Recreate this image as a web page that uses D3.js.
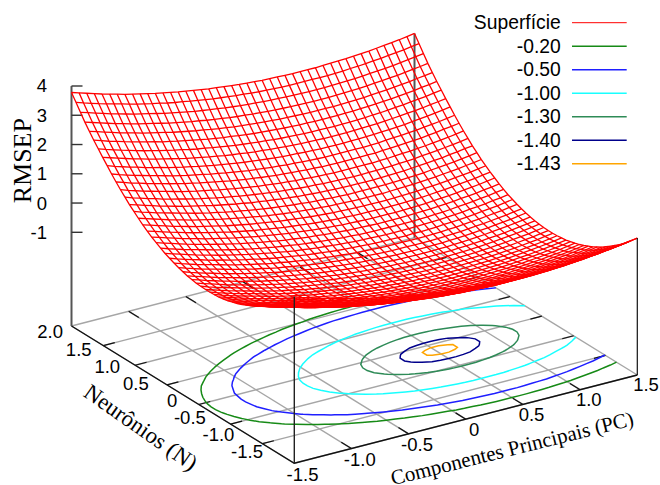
<!DOCTYPE html>
<html>
<head>
<meta charset="utf-8">
<script src="https://cdnjs.cloudflare.com/ajax/libs/d3/7.8.5/d3.min.js"></script>
<style>
body { margin: 0; background: #fff; }
text { font-family: "Liberation Sans", sans-serif; font-size: 18.5px; fill: #000; }
.title { font-family: "Liberation Serif", serif; }
</style>
</head>
<body>
<div id="chart"></div>
<script>
// --- Data ---
const pcTicks = [-1.5, -1.0, -0.5, 0, 0.5, 1.0, 1.5];
const pcTickLabels = ["-1.5", "-1.0", "-0.5", "0", "0.5", "1.0", "1.5"];
const nTicks = [-1.5, -1.0, -0.5, 0, 0.5, 1.0, 1.5, 2.0];
const nTickLabels = ["-1.5", "-1.0", "-0.5", "0", "0.5", "1.0", "1.5", "2.0"];
const zTicks = [-1, 0, 1, 2, 3, 4];
const zTickLabels = ["-1", "0", "1", "2", "3", "4"];
const zFloor = -4.2;

const contourLevels = [-0.2, -0.5, -1.0, -1.3, -1.4, -1.43];
const contourLabels = ["-0.20", "-0.50", "-1.00", "-1.30", "-1.40", "-1.43"];
const contourColors = ["#168a16", "#1f1fff", "#19ffff", "#2e8b57", "#00008b", "#ffa500"];

// RMSEP x 100, one row per N step (from N = -1.5 to N = 2.0), one column per PC step (-1.5 to 1.5)
const rmsepGrid = [
[149,140,132,124,117,110,103,96,89,83,77,72,67,61,57,52,48,44,40,37,34,31,29,26,25,23,21,20,19,19,19,19,19,19,20,21,23,25,26,29,31,34,37,40,44,48],
[133,124,116,108,101,93,86,80,73,67,61,56,50,45,41,36,32,28,24,21,18,15,13,10,8,7,5,4,3,3,2,2,3,3,4,5,7,8,10,13,15,18,21,24,28,32],
[117,109,101,93,85,78,71,64,58,52,46,40,35,30,25,21,16,13,9,6,2,0,-3,-5,-7,-9,-10,-11,-12,-13,-13,-13,-13,-12,-11,-10,-9,-7,-5,-3,0,2,6,9,13,16],
[103,94,86,78,71,64,57,50,43,37,31,26,20,15,11,6,2,-2,-6,-9,-12,-15,-17,-20,-22,-23,-25,-26,-27,-27,-27,-27,-27,-27,-26,-25,-23,-22,-20,-17,-15,-12,-9,-6,-2,2],
[89,81,73,65,57,50,43,36,30,24,18,12,7,2,-3,-7,-12,-16,-19,-23,-26,-28,-31,-33,-35,-37,-38,-39,-40,-41,-41,-41,-41,-40,-39,-38,-37,-35,-33,-31,-28,-26,-23,-19,-16,-12],
[76,68,60,52,44,37,30,23,17,11,5,-1,-6,-11,-16,-20,-24,-28,-32,-35,-38,-41,-44,-46,-48,-50,-51,-52,-53,-54,-54,-54,-54,-53,-52,-51,-50,-48,-46,-44,-41,-38,-35,-32,-28,-24],
[64,56,48,40,33,25,18,12,5,-1,-7,-13,-18,-23,-28,-32,-36,-40,-44,-47,-50,-53,-56,-58,-60,-62,-63,-64,-65,-65,-66,-66,-65,-65,-64,-63,-62,-60,-58,-56,-53,-50,-47,-44,-40,-36],
[53,45,37,29,21,14,7,0,-6,-12,-18,-24,-29,-34,-39,-43,-47,-51,-55,-58,-61,-64,-67,-69,-71,-73,-74,-75,-76,-77,-77,-77,-77,-76,-75,-74,-73,-71,-69,-67,-64,-61,-58,-55,-51,-47],
[43,35,27,19,11,4,-3,-10,-16,-22,-28,-34,-39,-44,-49,-53,-58,-62,-65,-69,-72,-74,-77,-79,-81,-83,-84,-85,-86,-87,-87,-87,-87,-86,-85,-84,-83,-81,-79,-77,-74,-72,-69,-65,-62,-58],
[34,25,17,9,2,-5,-12,-19,-26,-32,-38,-43,-49,-54,-58,-63,-67,-71,-75,-78,-81,-84,-86,-89,-91,-92,-94,-95,-96,-96,-96,-96,-96,-96,-95,-94,-92,-91,-89,-86,-84,-81,-78,-75,-71,-67],
[25,17,9,1,-7,-14,-21,-28,-34,-40,-46,-52,-57,-62,-67,-71,-76,-80,-83,-87,-90,-92,-95,-97,-99,-101,-102,-103,-104,-105,-105,-105,-105,-104,-103,-102,-101,-99,-97,-95,-92,-90,-87,-83,-80,-76],
[18,9,1,-7,-14,-22,-29,-35,-42,-48,-54,-59,-65,-70,-75,-79,-83,-87,-91,-94,-97,-100,-103,-105,-107,-108,-110,-111,-112,-112,-113,-113,-112,-112,-111,-110,-108,-107,-105,-103,-100,-97,-94,-91,-87,-83],
[11,2,-6,-14,-21,-28,-35,-42,-49,-55,-61,-66,-72,-77,-81,-86,-90,-94,-98,-101,-104,-107,-109,-112,-114,-115,-117,-118,-119,-119,-119,-119,-119,-119,-118,-117,-115,-114,-112,-109,-107,-104,-101,-98,-94,-90],
[5,-4,-12,-20,-27,-34,-41,-48,-55,-61,-67,-72,-78,-83,-87,-92,-96,-100,-104,-107,-110,-113,-115,-118,-120,-121,-123,-124,-125,-125,-125,-125,-125,-125,-124,-123,-121,-120,-118,-115,-113,-110,-107,-104,-100,-96],
[0,-9,-17,-25,-32,-40,-47,-53,-60,-66,-72,-77,-83,-88,-92,-97,-101,-105,-109,-112,-115,-118,-120.5,-122.7,-124.7,-126.4,-127.8,-128.9,-129.7,-130.3,-130.6,-130.6,-130.3,-129.7,-128.9,-127.8,-126.4,-124.7,-122.7,-120.5,-118,-115,-112,-109,-105,-101],
[-5,-13,-21,-29,-37,-44,-51,-58,-64,-70,-76,-82,-87,-92,-97,-101,-105,-109,-113,-116,-119,-122,-124.8,-127,-129,-130.6,-132,-133.2,-134,-134.6,-134.8,-134.8,-134.6,-134,-133.2,-132,-130.6,-129,-127,-124.8,-122,-119,-116,-113,-109,-105],
[-8,-16,-25,-32,-40,-47,-54,-61,-67,-74,-79,-85,-90,-95,-100,-105,-109,-113,-116,-120,-123,-126,-128.2,-130.4,-132.4,-134,-135.4,-136.6,-137.4,-138,-138.2,-138.2,-138,-137.4,-136.6,-135.4,-134,-132.4,-130.4,-128.2,-126,-123,-120,-116,-113,-109],
[-11,-19,-27,-35,-43,-50,-57,-64,-70,-76,-82,-88,-93,-98,-103,-107,-111,-115,-119,-122,-125,-128,-130.7,-133,-134.9,-136.6,-138,-139.1,-140,-140.5,-140.8,-140.8,-140.5,-140,-139.1,-138,-136.6,-134.9,-133,-130.7,-128,-125,-122,-119,-115,-111],
[-12,-21,-29,-37,-44,-51,-58,-65,-72,-78,-84,-89,-95,-100,-104,-109,-113,-117,-121,-124,-127,-130,-132.4,-134.7,-136.6,-138.3,-139.7,-140.8,-141.9,-142.4,-142.7,-142.7,-142.4,-141.9,-140.8,-139.7,-138.3,-136.6,-134.7,-132.4,-130,-127,-124,-121,-117,-113],
[-13,-22,-30,-38,-45,-52,-59,-66,-73,-79,-85,-90,-95,-101,-105,-110,-114,-118,-122,-125,-128,-131,-133.3,-135.5,-137.5,-139.2,-140.6,-141.7,-142.7,-143.3,-143.6,-143.6,-143.3,-142.7,-141.7,-140.6,-139.2,-137.5,-135.5,-133.3,-131,-128,-125,-122,-118,-114],
[-13,-22,-30,-38,-45,-52,-59,-66,-73,-79,-85,-90,-95,-101,-105,-110,-114,-118,-122,-125,-128,-131,-133.3,-135.5,-137.5,-139.2,-140.6,-141.7,-142.7,-143.3,-143.6,-143.6,-143.3,-142.7,-141.7,-140.6,-139.2,-137.5,-135.5,-133.3,-131,-128,-125,-122,-118,-114],
[-12,-21,-29,-37,-44,-51,-58,-65,-72,-78,-84,-89,-95,-100,-104,-109,-113,-117,-121,-124,-127,-130,-132.4,-134.7,-136.6,-138.3,-139.7,-140.8,-141.9,-142.4,-142.7,-142.7,-142.4,-141.9,-140.8,-139.7,-138.3,-136.6,-134.7,-132.4,-130,-127,-124,-121,-117,-113],
[-11,-19,-27,-35,-43,-50,-57,-64,-70,-76,-82,-88,-93,-98,-103,-107,-111,-115,-119,-122,-125,-128,-130.7,-133,-134.9,-136.6,-138,-139.1,-140,-140.5,-140.8,-140.8,-140.5,-140,-139.1,-138,-136.6,-134.9,-133,-130.7,-128,-125,-122,-119,-115,-111],
[-8,-16,-25,-32,-40,-47,-54,-61,-67,-74,-79,-85,-90,-95,-100,-105,-109,-113,-116,-120,-123,-126,-128.2,-130.4,-132.4,-134,-135.4,-136.6,-137.4,-138,-138.2,-138.2,-138,-137.4,-136.6,-135.4,-134,-132.4,-130.4,-128.2,-126,-123,-120,-116,-113,-109],
[-5,-13,-21,-29,-37,-44,-51,-58,-64,-70,-76,-82,-87,-92,-97,-101,-105,-109,-113,-116,-119,-122,-124.8,-127,-129,-130.6,-132,-133.2,-134,-134.6,-134.8,-134.8,-134.6,-134,-133.2,-132,-130.6,-129,-127,-124.8,-122,-119,-116,-113,-109,-105],
[0,-9,-17,-25,-32,-40,-47,-53,-60,-66,-72,-77,-83,-88,-92,-97,-101,-105,-109,-112,-115,-118,-120.5,-122.7,-124.7,-126.4,-127.8,-128.9,-129.7,-130.3,-130.6,-130.6,-130.3,-129.7,-128.9,-127.8,-126.4,-124.7,-122.7,-120.5,-118,-115,-112,-109,-105,-101],
[5,-4,-12,-20,-27,-34,-41,-48,-55,-61,-67,-72,-78,-83,-87,-92,-96,-100,-104,-107,-110,-113,-115,-118,-120,-121,-123,-124,-125,-125,-125,-125,-125,-125,-124,-123,-121,-120,-118,-115,-113,-110,-107,-104,-100,-96],
[11,2,-6,-14,-21,-28,-35,-42,-49,-55,-61,-66,-72,-77,-81,-86,-90,-94,-98,-101,-104,-107,-109,-112,-114,-115,-117,-118,-119,-119,-119,-119,-119,-119,-118,-117,-115,-114,-112,-109,-107,-104,-101,-98,-94,-90],
[18,9,1,-7,-14,-22,-29,-35,-42,-48,-54,-59,-65,-70,-75,-79,-83,-87,-91,-94,-97,-100,-103,-105,-107,-108,-110,-111,-112,-112,-113,-113,-112,-112,-111,-110,-108,-107,-105,-103,-100,-97,-94,-91,-87,-83],
[25,17,9,1,-7,-14,-21,-28,-34,-40,-46,-52,-57,-62,-67,-71,-76,-80,-83,-87,-90,-92,-95,-97,-99,-101,-102,-103,-104,-105,-105,-105,-105,-104,-103,-102,-101,-99,-97,-95,-92,-90,-87,-83,-80,-76],
[34,25,17,9,2,-5,-12,-19,-26,-32,-38,-43,-49,-54,-58,-63,-67,-71,-75,-78,-81,-84,-86,-89,-91,-92,-94,-95,-96,-96,-96,-96,-96,-96,-95,-94,-92,-91,-89,-86,-84,-81,-78,-75,-71,-67],
[43,35,27,19,11,4,-3,-10,-16,-22,-28,-34,-39,-44,-49,-53,-58,-62,-65,-69,-72,-74,-77,-79,-81,-83,-84,-85,-86,-87,-87,-87,-87,-86,-85,-84,-83,-81,-79,-77,-74,-72,-69,-65,-62,-58],
[53,45,37,29,21,14,7,0,-6,-12,-18,-24,-29,-34,-39,-43,-47,-51,-55,-58,-61,-64,-67,-69,-71,-73,-74,-75,-76,-77,-77,-77,-77,-76,-75,-74,-73,-71,-69,-67,-64,-61,-58,-55,-51,-47],
[64,56,48,40,33,25,18,12,5,-1,-7,-13,-18,-23,-28,-32,-36,-40,-44,-47,-50,-53,-56,-58,-60,-62,-63,-64,-65,-65,-66,-66,-65,-65,-64,-63,-62,-60,-58,-56,-53,-50,-47,-44,-40,-36],
[76,68,60,52,44,37,30,23,17,11,5,-1,-6,-11,-16,-20,-24,-28,-32,-35,-38,-41,-44,-46,-48,-50,-51,-52,-53,-54,-54,-54,-54,-53,-52,-51,-50,-48,-46,-44,-41,-38,-35,-32,-28,-24],
[89,81,73,65,57,50,43,36,30,24,18,12,7,2,-3,-7,-12,-16,-19,-23,-26,-28,-31,-33,-35,-37,-38,-39,-40,-41,-41,-41,-41,-40,-39,-38,-37,-35,-33,-31,-28,-26,-23,-19,-16,-12],
[103,94,86,78,71,64,57,50,43,37,31,26,20,15,11,6,2,-2,-6,-9,-12,-15,-17,-20,-22,-23,-25,-26,-27,-27,-27,-27,-27,-27,-26,-25,-23,-22,-20,-17,-15,-12,-9,-6,-2,2],
[117,109,101,93,85,78,71,64,58,52,46,40,35,30,25,21,16,13,9,6,2,0,-3,-5,-7,-9,-10,-11,-12,-13,-13,-13,-13,-12,-11,-10,-9,-7,-5,-3,0,2,6,9,13,16],
[133,124,116,108,101,93,86,80,73,67,61,56,50,45,41,36,32,28,24,21,18,15,13,10,8,7,5,4,3,3,2,2,3,3,4,5,7,8,10,13,15,18,21,24,28,32],
[149,140,132,124,117,110,103,96,89,83,77,72,67,61,57,52,48,44,40,37,34,31,29,26,25,23,21,20,19,19,19,19,19,19,20,21,23,25,26,29,31,34,37,40,44,48],
[166,158,149,142,134,127,120,113,107,100,95,89,84,79,74,69,65,61,58,54,51,48,46,44,42,40,39,37,37,36,36,36,36,37,37,39,40,42,44,46,48,51,54,58,61,65],
[184,175,167,159,152,145,138,131,124,118,112,107,102,96,92,87,83,79,75,72,69,66,64,61,60,58,56,55,54,54,54,54,54,54,55,56,58,60,61,64,66,69,72,75,79,83],
[203,194,186,178,171,163,156,150,143,137,131,126,120,115,110,106,102,98,94,91,88,85,82,80,78,77,75,74,73,73,72,72,73,73,74,75,77,78,80,82,85,88,91,94,98,102],
[222,214,206,198,190,183,176,169,163,157,151,145,140,135,130,126,121,117,114,110,107,105,102,100,98,96,95,94,93,92,92,92,92,93,94,95,96,98,100,102,105,107,110,114,117,121],
[242,233,225,217,210,202,195,189,182,176,170,165,159,154,150,145,141,137,133,130,127,124,122,119,117,116,114,113,112,112,111,111,112,112,113,114,116,117,119,122,124,127,130,133,137,141],
[262,254,245,238,230,223,216,209,203,196,191,185,180,175,170,165,161,157,154,150,147,144,142,140,138,136,135,133,133,132,132,132,132,133,133,135,136,138,140,142,144,147,150,154,157,161],
[283,275,267,259,251,244,237,230,224,218,212,206,201,196,191,187,182,178,175,171,168,166,163,161,159,157,156,155,154,153,153,153,153,154,155,156,157,159,161,163,166,168,171,175,178,182],
[305,297,289,281,273,266,259,252,246,240,234,228,223,218,213,209,204,200,197,193,190,188,185,183,181,179,178,177,176,175,175,175,175,176,177,178,179,181,183,185,188,190,193,197,200,204],
[329,321,313,305,297,290,283,276,270,264,258,252,247,242,237,232,228,224,221,217,214,211,209,207,205,203,202,201,200,199,199,199,199,200,201,202,203,205,207,209,211,214,217,221,224,228],
[354,345,337,329,322,315,308,301,294,288,282,277,271,266,262,257,253,249,245,242,239,236,234,231,229,228,226,225,224,224,224,224,224,224,225,226,228,229,231,234,236,239,242,245,249,253],
[378,370,362,354,346,339,332,325,319,313,307,301,296,291,286,282,278,274,270,267,264,261,258,256,254,252,251,250,249,248,248,248,248,249,250,251,252,254,256,258,261,264,267,270,274,278]
];

const rowCount = rmsepGrid.length;
const colCount = rmsepGrid[0].length;

// --- Scales: base plane is a parallelogram, z goes straight up ---
const width = 660, height = 485;
const frontX = 294.3, frontY = 463.3;

const pcToX = d3.scaleLinear().domain([-1.5, 1.5]).range([0, 343]);
const pcToY = d3.scaleLinear().domain([-1.5, 1.5]).range([0, -88.3]);
const nToX = d3.scaleLinear().domain([-1.5, 2]).range([0, -222.8]);
const nToY = d3.scaleLinear().domain([-1.5, 2]).range([0, -137.3]);
const zScale = d3.scaleLinear().domain([-1, 4]).range([232.3, 86]);

const colToPc = d3.scaleLinear().domain([0, colCount - 1]).range([-1.5, 1.5]);
const rowToN = d3.scaleLinear().domain([0, rowCount - 1]).range([-1.5, 2]);

function project(pc, n, z) {
    return [
        frontX + pcToX(pc) + nToX(n),
        frontY + pcToY(pc) + nToY(n) + zScale(z) - zScale(zFloor)
    ];
}
const onFloor = (pc, n) => project(pc, n, zFloor);
const onSurface = (col, row) => project(colToPc(col), rowToN(row), rmsepGrid[row][col] / 100);

const line = d3.line();

const svg = d3.select("#chart").append("svg")
    .attr("width", width)
    .attr("height", height)
    .style("display", "block");

// --- Floor grid ---
const gridG = svg.append("g").attr("fill", "none").attr("stroke", "#a6a6a6").attr("stroke-width", 1.4);
pcTicks.forEach(t => gridG.append("path").attr("d", line([onFloor(t, -1.5), onFloor(t, 2)])));
nTicks.forEach(t => gridG.append("path").attr("d", line([onFloor(-1.5, t), onFloor(1.5, t)])));

// --- Tick marks on all four floor edges ---
const tickG = svg.append("g").attr("fill", "none").attr("stroke", "#111").attr("stroke-width", 1.2);
pcTicks.slice(1, -1).forEach(t => {
    tickG.append("path").attr("d", line([onFloor(t, -1.5), onFloor(t, -1.34)]));
    tickG.append("path").attr("d", line([onFloor(t, 2), onFloor(t, 1.84)]));
});
nTicks.slice(1, -1).forEach(t => {
    tickG.append("path").attr("d", line([onFloor(-1.5, t), onFloor(-1.4, t)]));
    tickG.append("path").attr("d", line([onFloor(1.5, t), onFloor(1.4, t)]));
});

// --- Floor border ---
svg.append("path")
    .attr("d", line([onFloor(-1.5, 2), onFloor(-1.5, -1.5), onFloor(1.5, -1.5)]))
    .attr("fill", "none").attr("stroke", "#111").attr("stroke-width", 1.4);

// --- Mask: contours disappear behind the surface ---
let surfaceQuads = "";
for (let r = 0; r < rowCount - 1; r++) {
    for (let c = 0; c < colCount - 1; c++) {
        surfaceQuads += line([onSurface(c, r), onSurface(c + 1, r), onSurface(c + 1, r + 1), onSurface(c, r + 1)]) + "Z";
    }
}
const mask = svg.append("defs").append("mask").attr("id", "behindSurface")
    .attr("maskUnits", "userSpaceOnUse")
    .attr("x", 0).attr("y", 0).attr("width", width).attr("height", height);
mask.append("rect").attr("width", width).attr("height", height).attr("fill", "#fff");
mask.append("path").attr("d", surfaceQuads).attr("fill", "#000").attr("stroke", "#000").attr("stroke-width", 0.6);

// --- Contours on the floor ---
// d3.contours puts grid point i at i + 0.5
const contourPc = d3.scaleLinear().domain([0.5, colCount - 0.5]).range([-1.5, 1.5]);
const contourN = d3.scaleLinear().domain([0.5, rowCount - 0.5]).range([-1.5, 2]);
const flatGrid = rmsepGrid.flat();
const contourGen = d3.contours().size([colCount, rowCount]);

const inside = p => p[0] >= 0.5 && p[0] <= colCount - 0.5 && p[1] >= 0.5 && p[1] <= rowCount - 0.5;
const contourLine = d3.line()
    .defined(inside)
    .x(p => onFloor(contourPc(p[0]), contourN(p[1]))[0])
    .y(p => onFloor(contourPc(p[0]), contourN(p[1]))[1]);

const contourG = svg.append("g").attr("mask", "url(#behindSurface)").attr("fill", "none").attr("stroke-width", 1.5);
contourLevels.forEach((level, i) => {
    const shape = contourGen.contour(flatGrid, level * 100);
    shape.coordinates.forEach(polygon => polygon.forEach(ring => {
        contourG.append("path")
            .attr("d", contourLine(ring))
            .attr("stroke", contourColors[i]);
    }));
});

// --- Z axis and the other vertical edges ---
svg.append("path")
    .attr("d", line([onFloor(-1.5, 2), project(-1.5, 2, 4)]))
    .attr("stroke", "#555").attr("stroke-width", 2);
const zAxisX = onFloor(-1.5, 2)[0];
zTicks.forEach(t => {
    svg.append("line")
        .attr("x1", zAxisX).attr("x2", zAxisX + 11)
        .attr("y1", zScale(t)).attr("y2", zScale(t))
        .attr("stroke", "#333").attr("stroke-width", 1.4);
});
svg.append("path")
    .attr("d", line([onFloor(1.5, 2), onSurface(colCount - 1, rowCount - 1)]))
    .attr("stroke", "#555").attr("stroke-width", 2);

// --- Surface mesh ---
const meshG = svg.append("g").attr("fill", "none").attr("stroke", "#ff0000").attr("stroke-width", 1.3);
d3.range(rowCount).forEach(r => {
    meshG.append("path").attr("d", line(d3.range(colCount).map(c => onSurface(c, r))));
});
d3.range(colCount).forEach(c => {
    meshG.append("path").attr("d", line(d3.range(rowCount).map(r => onSurface(c, r))));
});

// vertical edges in front of the mesh
svg.append("path")
    .attr("d", line([onFloor(-1.5, -1.5), onSurface(0, 0)]))
    .attr("stroke", "#222").attr("stroke-width", 1.4);
svg.append("path")
    .attr("d", line([onFloor(1.5, -1.5), onSurface(colCount - 1, 0)]))
    .attr("stroke", "#111").attr("stroke-width", 1.2);

// --- Tick labels ---
const zLabelX = 47;
svg.append("g").selectAll("text").data(zTicks).enter().append("text")
    .attr("x", zLabelX)
    .attr("y", d => zScale(d))
    .attr("dy", "0.35em")
    .attr("text-anchor", "end")
    .text((d, i) => zTickLabels[i]);

const nLabelX = d3.scaleLinear().domain([-1.5, 2]).range([263, 63]);
const nLabelY = d3.scaleLinear().domain([-1.5, 2]).range([452, 332]);
svg.append("g").selectAll("text").data(nTicks).enter().append("text")
    .attr("x", d => nLabelX(d))
    .attr("y", d => nLabelY(d))
    .attr("dy", "0.35em")
    .attr("text-anchor", "end")
    .text((d, i) => nTickLabels[i]);

const pcLabelX = d3.scaleLinear().domain([-1.5, 1.5]).range([302.5, 646]);
const pcLabelY = d3.scaleLinear().domain([-1.5, 1.5]).range([475, 385]);
svg.append("g").selectAll("text").data(pcTicks).enter().append("text")
    .attr("x", d => pcLabelX(d))
    .attr("y", d => pcLabelY(d))
    .attr("dy", "0.35em")
    .attr("text-anchor", "middle")
    .text((d, i) => pcTickLabels[i]);

// --- Axis titles ---
svg.append("text").attr("class", "title")
    .attr("transform", "translate(21.7,160.7) rotate(-90)")
    .attr("dy", "0.35em").attr("text-anchor", "middle")
    .style("font-size", "26px")
    .text("RMSEP");
svg.append("text").attr("class", "title")
    .attr("transform", "translate(141,427) rotate(35)")
    .attr("dy", "0.35em").attr("text-anchor", "middle")
    .style("font-size", "22.8px")
    .text("Neurônios (N)");
svg.append("text").attr("class", "title")
    .attr("transform", "translate(512,448) rotate(-14)")
    .attr("dy", "0.35em").attr("text-anchor", "middle")
    .style("font-size", "21px")
    .text("Componentes Principais (PC)");

// --- Legend ---
const legendNames = ["Superfície"].concat(contourLabels);
const legendColors = ["#ff0000"].concat(contourColors);
const legendRow = d3.scalePoint().domain(d3.range(legendNames.length)).range([22.7, 163.7]);
const legendG = svg.append("g").style("font-size", "19.3px");
legendNames.forEach((name, i) => {
    legendG.append("text")
        .attr("x", 560.7).attr("y", legendRow(i))
        .attr("dy", "0.35em").attr("text-anchor", "end")
        .style("font-size", "19.3px")
        .text(name);
    legendG.append("line")
        .attr("x1", 572).attr("x2", 626.7)
        .attr("y1", legendRow(i)).attr("y2", legendRow(i))
        .attr("stroke", legendColors[i])
        .attr("stroke-width", i === 0 ? 1 : 1.5);
});
</script>
</body>
</html>
